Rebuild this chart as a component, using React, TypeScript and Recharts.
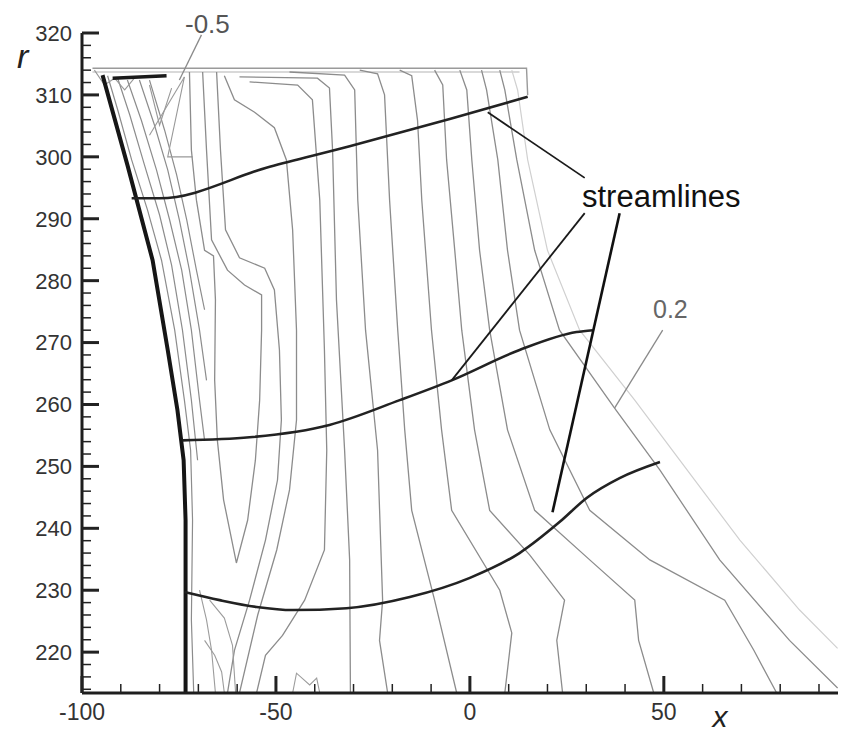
import { ComposedChart, Line, XAxis, YAxis } from 'recharts';

type Pt = [number, number];

// axial position x, radius r
const X_TICKS = [-100, -90, -80, -70, -60, -50, -40, -30, -20, -10, 0, 10, 20, 30, 40, 50, 60, 70, 80, 90];
const X_LABELED = [-100, -50, 0, 50];
const R_TICKS = Array.from({ length: 54 }, (_, i) => 214 + i * 2);

// blade leading edge and tip
const bladeEdge: Pt[] = [[-94.7, 313.2], [-88.3, 298.7], [-81.8, 283.3], [-77.9, 268.8], [-75.4, 259.1], [-73.8, 251.0], [-73.3, 241.3], [-73.3, 213.4]];
const tipBar: Pt[] = [[-92.1, 312.7], [-78.2, 313.1]];

// streamlines
const streamUpper: Pt[] = [[-87.2, 293.3], [-80.0, 293.3], [-51.6, 298.4], [-31.0, 301.7], [-5.2, 306.1], [14.9, 309.7]];
const streamMid: Pt[] = [[-74.1, 254.2], [-56.8, 254.7], [-36.2, 256.7], [-18.1, 260.7], [-4.7, 263.9], [12.8, 268.8], [27.5, 271.7], [31.7, 272.0]];
const streamLower: Pt[] = [[-73.6, 229.7], [-64.5, 228.4], [-55.0, 227.3], [-45.7, 226.8], [-31.8, 227.1], [-15.5, 228.9], [0.0, 232.0], [12.8, 236.0], [23.1, 241.0], [30.1, 244.9], [38.6, 248.1], [49.0, 250.7]];

// annotation leaders
const leaderUpper: Pt[] = [[4.6, 307.2], [29.6, 296.6]];
const leaderMid: Pt[] = [[-4.7, 263.9], [29.6, 290.9]];
const leaderLower: Pt[] = [[21.3, 242.6], [38.6, 290.9]];
const leaderLevel02: Pt[] = [[37.3, 259.4], [49.7, 272.0]];
const leaderLevelNeg05: Pt[] = [[-69.2, 319.7], [-74.9, 312.4]];

// shroud boundary
const shroudOuter: Pt[] = [[-97.3, 314.3], [14.6, 314.3], [14.9, 310.0]];
const shroudInner: Pt[] = [[-97.3, 313.7], [12.8, 313.7]];

// contours hugging the leading edge
const fan1: Pt[] = [[-93.4, 313.1], [-90.8, 307.6], [-87.2, 299.5], [-83.1, 291.4], [-79.5, 283.3], [-76.1, 272.0], [-73.6, 260.7], [-72.0, 252.6], [-71.5, 241.3], [-71.8, 225.2], [-71.2, 213.4]];
const fan2: Pt[] = [[-90.8, 312.7], [-87.7, 306.8], [-83.9, 298.7], [-80.0, 290.6], [-76.9, 282.5], [-74.1, 272.0], [-71.8, 260.7], [-70.2, 251.0]];
const fan3: Pt[] = [[-88.3, 312.4], [-84.7, 305.9], [-80.8, 297.9], [-77.4, 289.8], [-74.3, 281.7], [-71.8, 272.0], [-69.7, 260.7], [-68.4, 254.2]];
const fan4: Pt[] = [[-85.2, 312.4], [-81.3, 305.1], [-77.9, 297.9], [-74.9, 289.8], [-72.3, 281.7], [-69.7, 272.0], [-67.9, 263.9]];
const fan5: Pt[] = [[-82.6, 312.4], [-78.7, 304.3], [-75.6, 297.1], [-73.0, 289.8], [-70.5, 281.7], [-68.4, 275.3]];

// tip region
const tipV: Pt[] = [[-82.6, 311.6], [-80.0, 305.1], [-76.9, 311.1]];
const tipRay: Pt[] = [[-73.6, 312.9], [-82.6, 303.5]];
const tipStep: Pt[] = [[-73.6, 312.9], [-77.9, 300.0], [-71.5, 300.0]];
const tipCorner: Pt[] = [[-96.8, 314.0], [-94.2, 311.6], [-91.6, 312.7], [-89.0, 310.8], [-86.5, 312.7]];

// mid-passage contours
const loopU: Pt[] = [[-72.3, 313.7], [-71.8, 301.1], [-70.5, 293.0], [-68.4, 284.9], [-66.1, 284.0], [-65.6, 276.9], [-65.8, 263.9], [-65.1, 254.2], [-63.5, 244.6], [-60.2, 234.4], [-57.3, 241.3], [-55.3, 251.0], [-54.2, 260.7], [-53.7, 272.0], [-53.7, 277.7], [-58.1, 279.3], [-62.5, 281.7], [-66.6, 286.6], [-67.9, 301.1], [-68.9, 313.7]];
const contourD3: Pt[] = [[-65.3, 313.7], [-64.3, 301.1], [-63.0, 288.2], [-59.4, 283.7], [-52.9, 282.0], [-50.4, 278.5], [-49.1, 268.8], [-48.6, 257.5], [-49.6, 247.8], [-52.7, 238.1], [-56.8, 228.4], [-60.7, 220.3], [-62.5, 213.4]];
const contourBump: Pt[] = [[-63.3, 313.1], [-60.7, 309.2], [-55.5, 307.2], [-50.4, 304.7], [-47.3, 299.5], [-45.7, 288.2], [-44.7, 272.0], [-44.7, 257.5], [-46.5, 246.2], [-49.8, 236.5], [-54.7, 226.0], [-59.4, 213.4]];
const contourM2: Pt[] = [[-56.8, 312.1], [-44.4, 311.6], [-40.6, 309.2], [-38.7, 293.0], [-37.5, 268.8], [-36.9, 252.6], [-37.5, 236.5], [-42.6, 228.4], [-48.3, 222.7], [-52.7, 219.5], [-55.0, 213.4]];

// downstream contours
const c1: Pt[] = [[-59.4, 312.9], [-39.3, 312.7], [-36.2, 311.1], [-35.4, 301.1], [-34.4, 276.9], [-32.3, 252.6], [-31.0, 234.9], [-30.8, 213.4]];
const c2: Pt[] = [[-46.5, 313.7], [-32.3, 313.2], [-29.7, 310.8], [-28.9, 293.0], [-26.9, 272.0], [-23.8, 252.6], [-22.5, 228.4], [-23.3, 221.9], [-21.2, 213.4]];
const c3: Pt[] = [[-28.4, 314.0], [-23.8, 313.4], [-22.0, 310.0], [-20.7, 293.0], [-18.6, 272.0], [-16.8, 255.9], [-15.0, 242.9], [-9.1, 228.4], [-3.4, 213.4]];
const c4: Pt[] = [[-18.1, 314.0], [-15.0, 313.1], [-13.5, 305.9], [-12.4, 293.0], [-9.9, 272.0], [-7.3, 255.9], [-4.7, 242.9], [7.7, 230.0], [10.8, 223.1], [9.0, 213.4]];
const c5: Pt[] = [[-9.1, 314.0], [-7.0, 311.6], [-6.0, 299.5], [-3.9, 284.9], [-2.1, 272.0], [1.2, 255.9], [5.1, 242.9], [15.4, 235.7], [24.4, 228.4], [22.4, 221.9], [23.9, 213.4]];
const c6: Pt[] = [[-2.6, 314.0], [-0.8, 310.8], [0.5, 299.5], [2.5, 284.9], [5.1, 272.0], [9.7, 255.9], [16.7, 242.9], [30.9, 234.9], [42.5, 228.4], [43.5, 221.9], [47.4, 213.4]];
const c7: Pt[] = [[3.0, 314.0], [4.3, 310.8], [7.2, 299.5], [9.7, 284.9], [12.8, 272.0], [20.6, 255.9], [30.9, 242.9], [46.4, 234.9], [65.7, 228.4], [73.2, 220.3], [79.1, 213.4]];
const c8: Pt[] = [[7.7, 314.0], [9.0, 310.8], [12.1, 299.5], [16.7, 284.9], [23.1, 272.0], [37.3, 259.4], [49.0, 249.4], [64.4, 234.9], [82.4, 221.9], [94.8, 214.2]];
const c9: Pt[] = [[10.8, 314.0], [12.3, 310.8], [14.9, 299.5], [20.0, 284.9], [28.3, 272.0], [42.5, 260.7], [54.1, 251.0], [69.6, 238.1], [85.0, 226.8], [94.8, 220.6]];

// hub corner
const hub1: Pt[] = [[-69.7, 230.0], [-67.9, 225.2], [-66.6, 220.3], [-65.6, 213.4]];
const hub2: Pt[] = [[-68.4, 221.9], [-65.8, 219.5], [-64.0, 216.8], [-63.3, 213.4]];
const hub3: Pt[] = [[-67.1, 228.4], [-63.3, 225.5], [-61.2, 221.1], [-60.4, 213.4]];
const hubWiggle: Pt[] = [[-45.7, 213.4], [-44.7, 216.6], [-41.3, 214.7], [-39.5, 215.8], [-38.7, 213.4]];

const GRAY = '#8c8c8c';

const series = [
  { id: 'shroudOuter', pts: shroudOuter, stroke: '#9a9a9a', w: 1.4 },
  { id: 'shroudInner', pts: shroudInner, stroke: '#b4b4b4', w: 1.2 },
  ...[fan1, fan2, fan3, fan4, fan5].map((pts, i) => ({ id: `fan${i}`, pts, stroke: GRAY, w: 1.2 })),
  ...[tipV, tipRay, tipStep, tipCorner].map((pts, i) => ({ id: `tip${i}`, pts, stroke: '#999', w: 1.1 })),
  ...[loopU, contourD3, contourBump, contourM2].map((pts, i) => ({ id: `mid${i}`, pts, stroke: GRAY, w: 1.3 })),
  ...[c1, c2, c3, c4, c5, c6, c7, c8].map((pts, i) => ({ id: `c${i}`, pts, stroke: GRAY, w: 1.3 })),
  { id: 'c9', pts: c9, stroke: '#d0d0d0', w: 1.2 },
  ...[hub1, hub2, hub3, hubWiggle].map((pts, i) => ({ id: `hub${i}`, pts, stroke: '#9c9c9c', w: 1.1 })),
  { id: 'leader02', pts: leaderLevel02, stroke: '#8a8a8a', w: 1.3 },
  { id: 'leaderNeg05', pts: leaderLevelNeg05, stroke: '#8a8a8a', w: 1.3 },
  { id: 'blade', pts: bladeEdge, stroke: '#161616', w: 4 },
  { id: 'tipBar', pts: tipBar, stroke: '#1a1a1a', w: 3.5 },
  { id: 'sUpper', pts: streamUpper, stroke: '#222', w: 2.6, curve: 'monotone' },
  { id: 'sMid', pts: streamMid, stroke: '#222', w: 2.6, curve: 'monotone' },
  { id: 'sLower', pts: streamLower, stroke: '#222', w: 2.6, curve: 'monotone' },
  { id: 'lUpper', pts: leaderUpper, stroke: '#1a1a1a', w: 1.8 },
  { id: 'lMid', pts: leaderMid, stroke: '#1a1a1a', w: 1.8 },
  { id: 'lLower', pts: leaderLower, stroke: '#111', w: 2.6 },
];

const toRows = (pts: Pt[]) => pts.map(([x, r]) => ({ x, r }));

const FONT = '"Liberation Sans", Arial, sans-serif';

function XTick({ x, y, payload }: any) {
  const v = payload.value as number;
  const major = X_LABELED.includes(v);
  return (
    <g>
      <line x1={x} x2={x} y1={y} y2={y - (major ? 17 : 9)} stroke="#222" strokeWidth={major ? 3 : 1.5} />
      {major && (
        <text x={x} y={y + 27} textAnchor="middle" fontFamily={FONT} fontSize={23} fill="#333">
          {v}
        </text>
      )}
    </g>
  );
}

function YTick({ x, y, payload }: any) {
  const v = payload.value as number;
  const major = v % 10 === 0;
  return (
    <g>
      <line x1={x} x2={x + (major ? 17 : 9)} y1={y} y2={y} stroke="#222" strokeWidth={major ? 3 : 1.5} />
      {major && (
        <text x={x - 10} y={y} dy="0.36em" textAnchor="end" fontFamily={FONT} fontSize={22} fill="#333">
          {v}
        </text>
      )}
    </g>
  );
}

export default function App() {
  return (
    <div style={{ position: 'absolute', left: 0, top: 0, width: 843, height: 736, background: '#fff' }}>
      <ComposedChart width={843} height={736} margin={{ top: 33, right: 5, bottom: 0, left: 0 }}>
        <XAxis
          type="number"
          dataKey="x"
          domain={[-100, 94.9]}
          allowDataOverflow
          ticks={X_TICKS}
          interval={0}
          height={43}
          tickSize={0}
          tickMargin={0}
          tick={<XTick />}
          axisLine={{ stroke: '#1e1e1e', strokeWidth: 3 }}
        />
        <YAxis
          type="number"
          domain={[213.4, 320]}
          allowDataOverflow
          ticks={R_TICKS}
          interval={0}
          width={82}
          tickSize={0}
          tickMargin={0}
          tick={<YTick />}
          axisLine={{ stroke: '#1e1e1e', strokeWidth: 3 }}
        />
        {series.map(s => (
          <Line
            key={s.id}
            data={toRows(s.pts)}
            dataKey="r"
            type={(s as any).curve ?? 'linear'}
            stroke={s.stroke}
            strokeWidth={s.w}
            dot={false}
            activeDot={false}
            isAnimationActive={false}
          />
        ))}
      </ComposedChart>
      <svg width={843} height={736} style={{ position: 'absolute', left: 0, top: 0, pointerEvents: 'none' }}>
        <text x={185} y={33} fontFamily={FONT} fontSize={26} fill="#555">-0.5</text>
        <text x={17} y={68} fontFamily={FONT} fontSize={34} fontStyle="italic" fill="#222">r</text>
        <text x={582} y={207} fontFamily={FONT} fontSize={31} fill="#111">streamlines</text>
        <text x={653} y={318} fontFamily={FONT} fontSize={25} fill="#666">0.2</text>
        <text x={720} y={727} textAnchor="middle" fontFamily={FONT} fontSize={30} fontStyle="italic" fill="#222">x</text>
      </svg>
    </div>
  );
}
